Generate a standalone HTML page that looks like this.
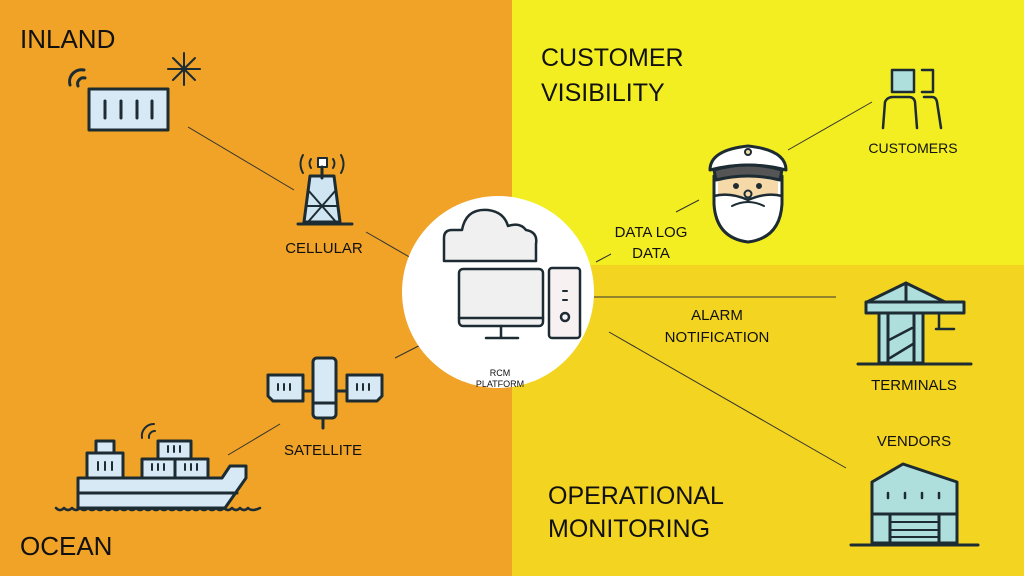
<!DOCTYPE html>
<html><head><meta charset="utf-8"><style>
html,body{margin:0;padding:0;width:1024px;height:576px;overflow:hidden}
svg{display:block}
text{font-family:"Liberation Sans",sans-serif;fill:#111}
</style></head><body>
<svg width="1024" height="576" viewBox="0 0 1024 576" xmlns="http://www.w3.org/2000/svg">
<rect x="0" y="0" width="512" height="576" fill="#F0A326"/>
<rect x="512" y="0" width="512" height="265" fill="#F3EE22"/>
<rect x="512" y="265" width="512" height="311" fill="#F2D421"/>

<g stroke="#333" stroke-width="1" fill="none">
<line x1="188" y1="127" x2="294" y2="190"/>
<line x1="366" y1="232" x2="432" y2="270"/>
<line x1="228" y1="455" x2="280" y2="424"/>
<line x1="395" y1="358" x2="446" y2="332"/>
<line x1="596" y1="262" x2="611" y2="254"/>
<line x1="676" y1="212" x2="699" y2="200"/>
<line x1="788" y1="150" x2="872" y2="102"/>
<line x1="594" y1="297" x2="836" y2="297"/>
<line x1="609" y1="332" x2="846" y2="468"/>
</g>

<circle cx="498" cy="292" r="96" fill="#fff"/>

<text x="20" y="48" font-size="26">INLAND</text>
<text x="20" y="555" font-size="26">OCEAN</text>
<text x="541" y="66" font-size="25">CUSTOMER</text>
<text x="541" y="101" font-size="25">VISIBILITY</text>
<text x="548" y="504" font-size="25">OPERATIONAL</text>
<text x="548" y="537" font-size="25">MONITORING</text>
<text x="324" y="253" font-size="15" text-anchor="middle">CELLULAR</text>
<text x="323" y="455" font-size="15" text-anchor="middle">SATELLITE</text>
<text x="651" y="237" font-size="15" text-anchor="middle">DATA LOG</text>
<text x="651" y="258" font-size="15" text-anchor="middle">DATA</text>
<text x="717" y="320" font-size="15" text-anchor="middle">ALARM</text>
<text x="717" y="342" font-size="15" text-anchor="middle">NOTIFICATION</text>
<text x="913" y="153" font-size="14" text-anchor="middle">CUSTOMERS</text>
<text x="914" y="390" font-size="15" text-anchor="middle">TERMINALS</text>
<text x="914" y="446" font-size="15" text-anchor="middle">VENDORS</text>
<text x="500" y="376" font-size="9" text-anchor="middle">RCM</text>
<text x="500" y="387" font-size="9" text-anchor="middle">PLATFORM</text>

<g stroke="#1d2b33" stroke-width="3" stroke-linecap="round" stroke-linejoin="round">
<rect x="89" y="89" width="79" height="41" fill="#d6e9f5"/>
<line x1="105" y1="101" x2="105" y2="118"/><line x1="121" y1="101" x2="121" y2="118"/>
<line x1="137" y1="101" x2="137" y2="118"/><line x1="152" y1="101" x2="152" y2="118"/>
<path d="M70 85 A12 12 0 0 1 84 70" fill="none"/><path d="M78 86 A6 6 0 0 1 85 78" fill="none"/>
<g stroke-width="2"><line x1="168" y1="69" x2="200" y2="69"/><line x1="184" y1="53" x2="184" y2="85"/>
<line x1="173" y1="58" x2="195" y2="80"/><line x1="195" y1="58" x2="173" y2="80"/></g>
<path d="M310 176 L304 222 L340 222 L334 176 Z" fill="#cfe6f2"/>
<path d="M308 190 L336 222 M336 190 L308 222 M306 206 L338 206" fill="none" stroke-width="2"/>
<line x1="298" y1="224" x2="352" y2="224"/>
<rect x="318" y="158" width="9" height="9" fill="#fff" stroke-width="2"/>
<line x1="322" y1="167" x2="322" y2="178"/>
<path d="M303 155 Q298 164 303 173 M311 159 Q308 163 311 168 M341 155 Q346 164 341 173 M333 159 Q336 163 333 168" fill="none" stroke-width="2"/>
<path d="M268 375 H303 V401 H273 L268 396 Z" fill="#d6e9f5"/>
<path d="M347 375 H382 V396 L377 401 H347 Z" fill="#d6e9f5"/>
<rect x="313" y="358" width="23" height="60" rx="4" fill="#d6e9f5"/>
<line x1="313" y1="403" x2="336" y2="403"/>
<line x1="303" y1="391" x2="313" y2="391"/><line x1="336" y1="391" x2="347" y2="391"/>
<line x1="323" y1="418" x2="323" y2="428"/>
<g stroke-width="2"><path d="M278 384v6M284 384v6M290 384v6M357 384v6M363 384v6M369 384v6"/></g>
<path d="M78 478 V508 H225 L246 478 V466 H230 L222 478 Z" fill="#d6e9f5"/>
<line x1="78" y1="493" x2="237" y2="493"/>
<path d="M56 508 Q60 512 64 508 Q68 512 72 508 Q76 512 80 508 Q84 512 88 508 Q92 512 96 508 Q100 512 104 508 Q108 512 112 508 Q116 512 120 508 Q124 512 128 508 Q132 512 136 508 Q140 512 144 508 Q148 512 152 508 Q156 512 160 508 Q164 512 168 508 Q172 512 176 508 Q180 512 184 508 Q188 512 192 508 Q196 512 200 508 Q204 512 208 508 Q212 512 216 508 Q220 512 224 508 Q228 512 232 508 Q236 512 240 508 Q244 512 248 508 Q252 512 260 508" fill="none" stroke-width="2.5"/>
<rect x="96" y="441" width="18" height="12" fill="#d6e9f5"/>
<rect x="87" y="453" width="36" height="25" fill="#d6e9f5"/>
<rect x="158" y="441" width="33" height="18" fill="#d6e9f5"/>
<rect x="142" y="459" width="33" height="19" fill="#d6e9f5"/>
<rect x="175" y="459" width="33" height="19" fill="#d6e9f5"/>
<g stroke-width="2"><path d="M98 462v8M105 462v8M112 462v8M168 446v6M174 446v6M180 446v6M152 464v6M158 464v6M164 464v6M185 464v6M191 464v6M197 464v6"/></g>
<path d="M142 438 A12 12 0 0 1 154 424 M149 438 A6 6 0 0 1 155 431" fill="none" stroke-width="2"/>
<path d="M444 261 V238 Q444 230 452 230 H462 Q466 208 488 210 Q504 212 508 226 Q520 222 526 230 Q538 232 536 244 V261 Z" fill="#f0f0f0" stroke-width="2.5"/>
<rect x="459" y="269" width="84" height="57" rx="4" fill="#f0f0f0" stroke-width="2.5"/>
<line x1="459" y1="318" x2="543" y2="318" stroke-width="2.5"/>
<line x1="501" y1="326" x2="501" y2="337" stroke-width="2.5"/>
<line x1="486" y1="338" x2="518" y2="338" stroke-width="2.5"/>
<rect x="549" y="268" width="31" height="70" rx="3" fill="#f7f1f1" stroke-width="2.5"/>
<line x1="563" y1="291" x2="567" y2="291" stroke-width="2"/><line x1="563" y1="300" x2="567" y2="300" stroke-width="2"/>
<circle cx="565" cy="317" r="4" fill="none" stroke-width="2.5"/>
<!-- captain -->
<path d="M714 176 H782 V204 Q780 238 748 242 Q716 238 714 204 Z" fill="#fff"/>
<rect x="718" y="176" width="60" height="20" fill="#f6d9a8" stroke="none"/>
<path d="M714 196 Q730 192 748 200 Q766 192 782 196" fill="none" stroke-width="2.5"/>
<path d="M710 170 Q710 150 748 146 Q786 150 786 170 Q748 160 710 170 Z" fill="#fff"/>
<path d="M714 170 Q748 160 782 170 L780 180 Q748 172 716 180 Z" fill="#555"/>
<circle cx="748" cy="152" r="3" fill="#f6d9a8" stroke-width="2"/>
<circle cx="736" cy="186" r="1.5" fill="#1d2b33"/><circle cx="759" cy="186" r="1.5" fill="#1d2b33"/>
<path d="M732 206 Q748 198 764 206" fill="none" stroke-width="2"/>
<circle cx="748" cy="194" r="3.5" fill="#f6d9a8" stroke-width="2"/>
<rect x="892" y="70" width="22" height="22" fill="#aedfdc" stroke-width="2.5"/>
<path d="M922 70 H933 V92 H922" fill="none" stroke-width="2.5"/>
<path d="M883 128 L885 102 Q887 97 893 97 H909 Q914 97 915 102 L917 128" fill="none" stroke-width="2.5"/>
<path d="M924 97 H932 Q936 97 937 102 L941 128" fill="none" stroke-width="2.5"/>
<path d="M867 302 L906 283 L945 302 Z" fill="#aedfdc"/>
<line x1="906" y1="283" x2="906" y2="302"/>
<rect x="866" y="302" width="98" height="11" fill="#aedfdc"/>
<rect x="879" y="313" width="9" height="50" fill="#aedfdc"/>
<rect x="888" y="313" width="26" height="50" fill="#aedfdc"/>
<rect x="914" y="313" width="9" height="50" fill="#aedfdc"/>
<path d="M889 340 L912 328 M890 358 L913 344" fill="none" stroke-width="2.5"/>
<path d="M939 313 V328 M936 329 H954" fill="none" stroke-width="2.5"/>
<line x1="858" y1="364" x2="971" y2="364"/>
<path d="M872 543 V482 L903 464 L957 482 V543 Z" fill="#aedfdc"/>
<line x1="872" y1="514" x2="957" y2="514"/>
<rect x="890" y="514" width="49" height="29" fill="#aedfdc"/>
<path d="M890 522 H939 M890 530 H939 M890 537 H939" stroke-width="2"/>
<path d="M888 493v5M905 493v5M922 493v5M939 493v5" stroke-width="2.5"/>
<line x1="851" y1="545" x2="978" y2="545"/>
</g>
</svg>
</body></html>
